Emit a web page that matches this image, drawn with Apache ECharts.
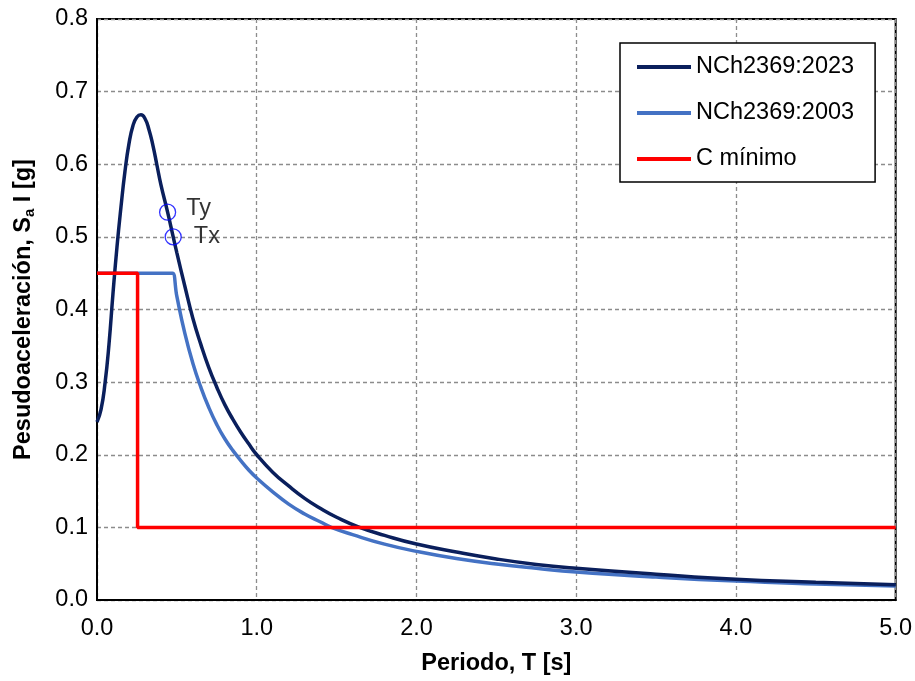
<!DOCTYPE html>
<html>
<head>
<meta charset="utf-8">
<script src="https://cdn.jsdelivr.net/npm/echarts@6/dist/echarts.min.js"></script>
<style>
html,body{margin:0;padding:0;background:#fff;}
#chart{width:915px;height:681px;}
</style>
</head>
<body>
<div id="chart"></div>
<script>
// Period values (s) and spectral values (g)
const t2023 = [0.00, 0.025, 0.05, 0.075, 0.10, 0.125, 0.15, 0.175, 0.20, 0.225, 0.25, 0.275, 0.30, 0.325, 0.35, 0.375, 0.40, 0.442, 0.477, 0.50, 0.55, 0.60, 0.65, 0.70, 0.75, 0.80, 0.85, 0.90, 0.95, 1.00, 1.10, 1.20, 1.30, 1.40, 1.50, 1.644, 1.80, 2.00, 2.25, 2.50, 2.75, 3.00, 3.50, 4.00, 4.50, 5.00];
const sa2023 = [0.245, 0.262, 0.298, 0.352, 0.422, 0.486, 0.541, 0.590, 0.628, 0.653, 0.665, 0.668, 0.663, 0.648, 0.626, 0.599, 0.572, 0.534, 0.500, 0.478, 0.432, 0.388, 0.352, 0.320, 0.293, 0.269, 0.249, 0.231, 0.215, 0.200, 0.176, 0.157, 0.140, 0.126, 0.114, 0.100, 0.089, 0.077, 0.066, 0.0565, 0.049, 0.0437, 0.0355, 0.0285, 0.0245, 0.021];

const t2003 = [0.00, 0.20, 0.46, 0.473, 0.50, 0.55, 0.60, 0.65, 0.70, 0.75, 0.80, 0.85, 0.90, 0.95, 1.00, 1.10, 1.20, 1.30, 1.40, 1.467, 1.60, 1.80, 2.00, 2.25, 2.50, 2.75, 3.00, 3.50, 4.00, 4.50, 5.00];
const sa2003 = [0.45, 0.45, 0.45, 0.45, 0.418, 0.367, 0.326, 0.293, 0.265, 0.2415, 0.222, 0.206, 0.192, 0.179, 0.168, 0.149, 0.132, 0.1185, 0.1074, 0.100, 0.090, 0.0769, 0.067, 0.0571, 0.0497, 0.0437, 0.0385, 0.0315, 0.026, 0.0222, 0.0192];

const tCmin = [0.00, 0.254, 0.254, 5.00];
const saCmin = [0.45, 0.45, 0.10, 0.10];

const markNames = ['Ty', 'Tx'];
const markT = [0.442, 0.477];
const markSa = [0.534, 0.500];

const seriesNames = ['NCh2369:2023', 'NCh2369:2003', 'C mínimo'];
const xTicks = ['0.0', '1.0', '2.0', '3.0', '4.0', '5.0'];

const FONT = '"Liberation Sans", Arial, sans-serif';
const FS = 23.5;
const pair = (xs, ys) => xs.map((x, i) => [x, ys[i]]);

const chart = echarts.init(document.getElementById('chart'), null, {renderer: 'canvas'});
chart.setOption({
  animation: false,
  backgroundColor: '#ffffff',
  textStyle: {fontFamily: FONT, color: '#000'},
  grid: {left: 97, right: 18, top: 19, bottom: 80, show: true, borderColor: '#000', borderWidth: 2, backgroundColor: '#fff'},
  xAxis: {
    type: 'value', min: 0, max: 5, interval: 1,
    name: 'Periodo, T [s]', nameLocation: 'middle', nameGap: 52,
    nameTextStyle: {fontFamily: FONT, fontSize: FS, fontWeight: 'bold', color: '#000'},
    axisLine: {show: true, lineStyle: {color: '#000', width: 2}},
    axisTick: {show: false},
    axisLabel: {fontFamily: FONT, fontSize: FS, color: '#000', margin: 17,
      formatter: v => xTicks[Math.round(v)]},
    splitLine: {show: true, lineStyle: {color: '#8c8c8c', width: 1.3, type: [4, 3]}}
  },
  yAxis: {
    type: 'value', min: 0, max: 0.8, interval: 0.1,
    name: '{b|Pesudoaceleración, S}{s|a}{b| I [g]}', nameLocation: 'middle', nameGap: 60,
    nameTextStyle: {fontFamily: FONT, color: '#000',
      rich: {
        b: {fontFamily: FONT, fontSize: FS, fontWeight: 'bold', color: '#000', lineHeight: 26},
        s: {fontFamily: FONT, fontSize: 15, fontWeight: 'bold', color: '#000', verticalAlign: 'bottom', lineHeight: 15, padding: [8, 0, 0, 0]}
      }},
    axisLine: {show: true, lineStyle: {color: '#000', width: 2}},
    axisTick: {show: false},
    axisLabel: {fontFamily: FONT, fontSize: FS, color: '#000', margin: 9,
      formatter: v => v.toFixed(1)},
    splitLine: {show: true, lineStyle: {color: '#8c8c8c', width: 1.3, type: [4, 3]}}
  },
  legend: {
    data: seriesNames,
    orient: 'vertical', left: 620, top: 43,
    padding: [12, 21, 11, 17],
    itemGap: 22, itemWidth: 54, itemHeight: 4, icon: 'rect',
    backgroundColor: '#fff', borderColor: '#000', borderWidth: 1.5,
    textStyle: {fontFamily: FONT, fontSize: FS, color: '#000'}
  },
  series: [
    {name: seriesNames[0], type: 'line', data: pair(t2023, sa2023), showSymbol: false, smooth: 0.5,
      lineStyle: {color: '#0a1f5c', width: 3.5}, itemStyle: {color: '#0a1f5c'}, z: 4},
    {name: seriesNames[1], type: 'line', data: pair(t2003, sa2003), showSymbol: false, smooth: 0.5,
      lineStyle: {color: '#4472c4', width: 3.5}, itemStyle: {color: '#4472c4'}, z: 3},
    {name: seriesNames[2], type: 'line', data: pair(tCmin, saCmin), showSymbol: false,
      lineStyle: {color: '#ff0000', width: 3.5}, itemStyle: {color: '#ff0000'}, z: 5},
    {name: 'markers', type: 'scatter', symbol: 'circle', symbolSize: 16, z: 6,
      itemStyle: {color: 'rgba(0,0,0,0)', borderColor: '#0000ff', borderWidth: 1.3},
      data: markNames.map((n, i) => ({name: n, value: [markT[i], markSa[i]],
        label: {show: true, position: 'right', distance: i === 0 ? 10 : 12, offset: i === 0 ? [0, -4] : [0, 0],
          formatter: n, fontFamily: FONT, fontSize: FS, color: '#000'}}))}
  ]
});
</script>
</body>
</html>
